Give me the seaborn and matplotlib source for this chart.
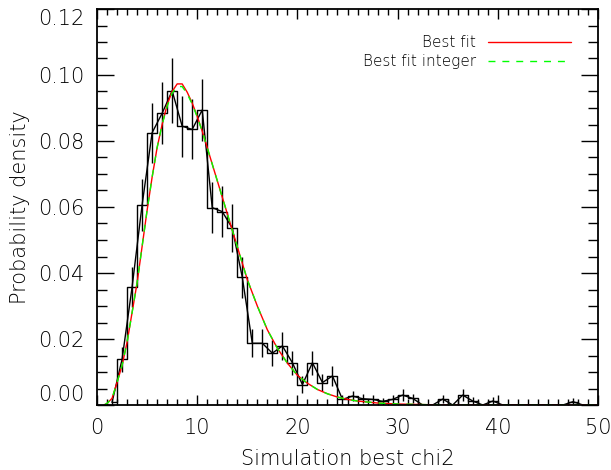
import matplotlib
matplotlib.use('Agg')
import matplotlib.pyplot as plt
import seaborn as sns
from matplotlib.ticker import MultipleLocator, FormatStrFormatter

# histogram of simulated best chi2 (bin centres, density, Poisson errors)
bin_centers = [1.5, 2.5, 3.5, 4.5, 5.5, 6.5, 7.5, 8.5, 9.5, 10.5, 11.5, 12.5,
               13.5, 14.5, 15.5, 16.5, 17.5, 18.5, 19.5, 20.5, 21.5, 22.5, 23.5, 24.5,
               25.5, 26.5, 27.5, 28.5, 29.5, 30.5, 31.5, 32.5, 33.5, 34.5, 35.5, 36.5,
               37.5, 38.5, 39.5, 40.5, 41.5, 42.5, 43.5, 44.5, 45.5, 46.5, 47.5, 48.5]
density = [0.0008, 0.0138, 0.0357, 0.0606, 0.0825, 0.0884, 0.0952, 0.0845, 0.0835, 0.0894, 0.0598, 0.0586,
           0.0536, 0.0387, 0.0187, 0.0187, 0.0157, 0.0179, 0.0128, 0.0062, 0.0128, 0.0068, 0.0088, 0.0017,
           0.0027, 0.0019, 0.0017, 0.0011, 0.0017, 0.0030, 0.0020, 0.0, 0.0, 0.0018, 0.0, 0.0030,
           0.0012, 0.0, 0.0012, 0.0, 0.0, 0.0, 0.0, 0.0, 0.0, 0.0, 0.0010, 0.0]
errors = [0.0009, 0.0037, 0.0060, 0.0078, 0.0091, 0.0094, 0.0098, 0.0092, 0.0091, 0.0095, 0.0077, 0.0077,
          0.0073, 0.0062, 0.0043, 0.0043, 0.0040, 0.0042, 0.0036, 0.0025, 0.0036, 0.0026, 0.0030, 0.0013,
          0.0016, 0.0014, 0.0013, 0.0010, 0.0013, 0.0017, 0.0014, 0.0, 0.0, 0.0013, 0.0, 0.0017,
          0.0011, 0.0, 0.0011, 0.0, 0.0, 0.0, 0.0, 0.0, 0.0, 0.0, 0.0010, 0.0]

# fitted curves
fit_x = [0.7, 1.0, 1.5, 2.0, 2.5, 3.0, 3.5, 4.0, 4.5, 5.0, 5.5, 6.0, 6.5, 7.0, 7.5, 8.0, 8.5,
         9.0, 9.5, 10.0, 10.5, 11.0, 11.5, 12.0, 13.0, 14.0, 15.0, 16.0, 17.0, 18.0, 19.0,
         20.0, 21.0, 22.0, 23.0, 24.0, 25.0, 26.0, 28.0, 30.0, 33.0, 36.0, 40.0, 50.0]
fit_best = [0.0, 0.0005, 0.002, 0.0068, 0.012, 0.019, 0.028, 0.037, 0.048, 0.059, 0.069, 0.078, 0.085,
            0.091, 0.095, 0.0973, 0.0973, 0.0948, 0.0915, 0.0875, 0.083, 0.078, 0.073, 0.068, 0.058,
            0.048, 0.038, 0.030, 0.0228, 0.0172, 0.0127, 0.0090, 0.0066, 0.0047, 0.0034, 0.0024,
            0.0017, 0.0012, 0.0006, 0.0003, 0.0001, 0.0, 0.0, 0.0]
fit_integer = [0.0, 0.0005, 0.002, 0.0068, 0.012, 0.019, 0.028, 0.037, 0.048, 0.059, 0.069, 0.078, 0.085,
               0.0905, 0.0945, 0.0965, 0.0965, 0.0943, 0.0912, 0.0873, 0.083, 0.078, 0.073, 0.068, 0.058,
               0.048, 0.038, 0.030, 0.0228, 0.0172, 0.0127, 0.0090, 0.0066, 0.0047, 0.0034, 0.0024,
               0.0017, 0.0012, 0.0006, 0.0003, 0.0001, 0.0, 0.0, 0.0]

sns.set_style('ticks')
plt.rcParams['font.family'] = ['DejaVu Sans']
plt.rcParams['font.weight'] = 'light'
plt.rcParams['axes.labelweight'] = 'light'
plt.rcParams['text.color'] = 'black'
plt.rcParams['axes.labelcolor'] = 'black'
plt.rcParams['xtick.color'] = 'black'
plt.rcParams['ytick.color'] = 'black'
plt.rcParams['axes.edgecolor'] = 'black'

fig = plt.figure(figsize=(6.11, 4.70), dpi=100)
ax = fig.add_axes([97/611, 1 - 405/470, 501/611, 396/470])

# histogram steps, centre-to-centre line and error bars
sns.lineplot(x=bin_centers, y=density, estimator=None, drawstyle='steps-mid',
             color='black', linewidth=1.0, ax=ax)
sns.lineplot(x=bin_centers, y=density, estimator=None, color='black', linewidth=1.0, ax=ax)
ax.errorbar(bin_centers, density, yerr=errors, fmt='none', ecolor='black', elinewidth=1.0, capsize=0)

sns.lineplot(x=fit_x, y=fit_best, estimator=None, color='red', linewidth=1.0,
             label='Best fit', ax=ax)
sns.lineplot(x=fit_x, y=fit_integer, estimator=None, color='lime', linewidth=1.0,
             linestyle=(0, (5, 5)), label='Best fit integer', ax=ax)

ax.set_xlim(0, 50)
ax.set_ylim(0, 0.12)
ax.xaxis.set_major_locator(MultipleLocator(10))
ax.xaxis.set_minor_locator(MultipleLocator(1))
ax.yaxis.set_major_locator(MultipleLocator(0.02))
ax.yaxis.set_minor_locator(MultipleLocator(0.005))
ax.yaxis.set_major_formatter(FormatStrFormatter('%.2f'))
ax.tick_params(which='both', direction='in', top=True, right=True, labelsize=15, width=1.0)
ax.tick_params(which='major', length=7)
ax.tick_params(which='minor', length=4)
ax.tick_params(axis='x', which='major', pad=9)
ax.tick_params(axis='y', which='major', length=12, pad=9)
ax.tick_params(axis='y', which='minor', length=7)
for s in ax.spines.values():
    s.set_linewidth(1.3)

ax.set_xlabel('Simulation best chi2', fontsize=15, labelpad=8)
ax.set_ylabel('Probability density', fontsize=15, labelpad=6)

ax.legend(loc='upper right', bbox_to_anchor=(0.97, 0.965), frameon=False, markerfirst=False,
          fontsize=11, handlelength=5.4, labelspacing=0.25, borderpad=0.3)

# keep the end labels inside the frame like the original
fig.canvas.draw()
for tick in ax.yaxis.get_major_ticks():
    loc = round(tick.get_loc(), 3)
    if loc == 0.12:
        tick.label1.set_verticalalignment('top')
    elif loc == 0.0:
        tick.label1.set_verticalalignment('bottom')

fig.savefig('out.png', dpi=100)
